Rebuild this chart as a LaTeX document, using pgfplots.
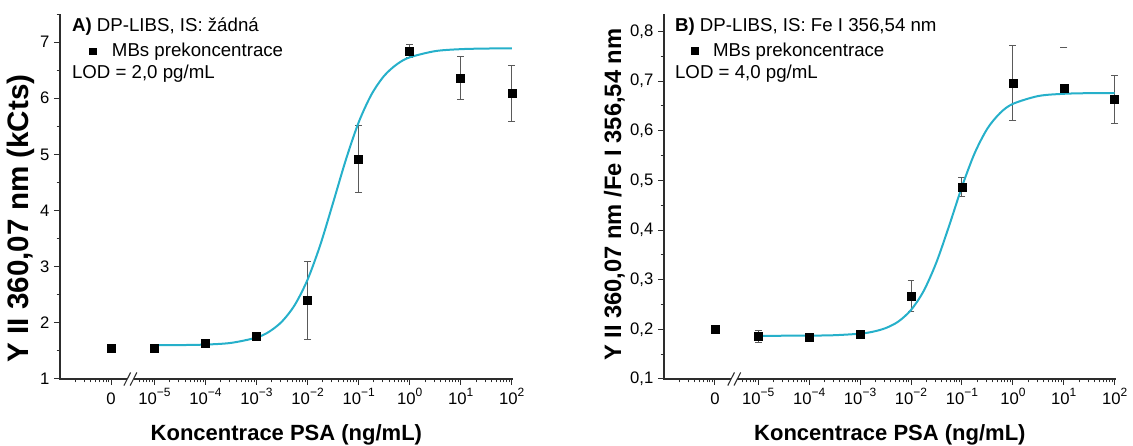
\documentclass[border=0pt]{standalone}
\usepackage{pgfplots}
\pgfplotsset{compat=1.18}
\usepackage{fontspec}
\setmainfont{Liberation Sans}
\definecolor{fitc}{RGB}{38,176,202}
\definecolor{axc}{RGB}{45,45,45}
\definecolor{errc}{RGB}{90,90,90}
\newcommand{\tp}[1]{10\raisebox{0.85ex}{\fontsize{9}{9}\selectfont #1}}
\pgfplotsset{
  panel/.style={
    scale only axis, width=339.6pt, height=273.75pt,
    anchor=south west,
    axis x line=bottom, axis y line=left,
    axis line style={axc, line width=0.9pt, -},
    x axis line style={draw=none},
    xmin=-6.85, xmax=2.02,
    xtick={-5.85,-5,-4,-3,-2,-1,0,1,2},
    xticklabels={0,\tp{\char"2212 5},\tp{\char"2212 4},\tp{\char"2212 3},\tp{\char"2212 2},\tp{\char"2212 1},\tp{0},\tp{1},\tp{2}},
    minor xtick={-6.549,-6.373,-6.248,-6.151,-6.072,-6.005,-5.947,-5.896,-5.301,-5.222,-5.155,-5.097,-5.046,-4.699,-4.523,-4.398,-4.301,-4.222,-4.155,-4.097,-4.046,-3.699,-3.523,-3.398,-3.301,-3.222,-3.155,-3.097,-3.046,-2.699,-2.523,-2.398,-2.301,-2.222,-2.155,-2.097,-2.046,-1.699,-1.523,-1.398,-1.301,-1.222,-1.155,-1.097,-1.046,-0.699,-0.523,-0.398,-0.301,-0.222,-0.155,-0.097,-0.046,0.301,0.477,0.602,0.699,0.778,0.845,0.903,0.954,1.301,1.477,1.602,1.699,1.778,1.845,1.903,1.954},
    tick align=outside,
    major tick length=4.5pt, minor tick length=2.6pt,
    every tick/.style={axc, line width=0.75pt},
    tick label style={font=\fontsize{12.5}{14}\selectfont, text=black},
    xticklabel style={anchor=base, yshift=-14.6pt},
    xlabel={Koncentrace PSA (ng/mL)},
    xlabel style={at={(axis description cs:0.5,-0.153)}, anchor=center, font=\bfseries\fontsize{16.5}{18}\selectfont},
    clip=false,
  },
  datast/.style={only marks, mark=square*, mark size=3pt, black,
    error bars/.cd, y dir=both, y explicit,
    error bar style={errc, line width=0.7pt},
    error mark options={errc, rotate=90, mark size=2.6pt, line width=0.7pt}},
  fitst/.style={fitc, line width=1.5pt, smooth, no marks},
  legst/.style={draw=none, fill=none, anchor=west, inner sep=0pt,
    nodes={inner sep=0pt}, column sep=11.5pt,
    font=\fontsize{14}{16}\selectfont},
}
\begin{document}
\begin{tikzpicture}
\path[use as bounding box] (0,0) rectangle (849.75pt,334.5pt);
% ---------- Panel A ----------
\begin{axis}[panel, at={(45pt,50.25pt)},
  ymin=1, ymax=7.5,
  ytick={1,2,3,4,5,6,7}, yticklabels={1,2,3,4,5,6,7},
  minor ytick={1.5,2.5,3.5,4.5,5.5,6.5,7.5},
  ylabel={Y II 360,07 nm (kCts)},
  ylabel style={at={(axis description cs:-0.086,0.44)}, anchor=center, font=\bfseries\fontsize{22.2}{24}\selectfont},
  legend style={legst, at={(rel axis cs:0.065,0.898)}},
  legend image code/.code={\draw[#1, mark size=2.6pt] plot coordinates {(0pt,0pt)};},
]
\addplot[datast] coordinates {
  (-5.85,1.55) +- (0,0.07)
  (-5,1.55) +- (0,0.04)
  (-4,1.63) +- (0,0.04)
  (-3,1.755) +- (0,0.04)
  (-2,2.40) +- (0,0.70)
  (-1,4.92) +- (0,0.60)
  (0,6.84) +- (0,0.12)
  (1,6.36) +- (0,0.38)
  (2,6.08) +- (0,0.50)
};
\addlegendentry{MBs prekoncentrace}
\addplot[fitst, forget plot] coordinates {
  (-5,1.601) (-4.5,1.604) (-4,1.613) (-3.5,1.643) (-3,1.738) (-2.75,1.844)
  (-2.5,2.025) (-2.25,2.320) (-2,2.770) (-1.75,3.391) (-1.5,4.140)
  (-1.25,4.904) (-1,5.569) (-0.75,6.064) (-0.5,6.399) (-0.25,6.605)
  (0,6.728) (0.5,6.839) (1,6.874) (1.5,6.885) (2,6.888)
};
\node[anchor=base west, inner sep=0pt, font=\fontsize{14}{16}\selectfont] at (rel axis cs:0.026,0.951) {\textbf{A)} DP-LIBS, IS: žádná};
\node[anchor=base west, inner sep=0pt, font=\fontsize{14}{16}\selectfont] at (rel axis cs:0.026,0.822) {LOD = 2,0 pg/mL};
\draw[axc, line width=0.9pt] ([xshift=-0.45pt]rel axis cs:0,0) -- (axis cs:-5.532,1);
\draw[axc, line width=0.9pt] (axis cs:-5.41,1) -- (rel axis cs:1,0);
\draw[axc, line width=0.8pt] (axis cs:-5.532,1) ++(-2.5pt,-4.9pt) -- ++(5pt,9.8pt);
\draw[axc, line width=0.8pt] (axis cs:-5.41,1) ++(-2.5pt,-4.9pt) -- ++(5pt,9.8pt);
\end{axis}
% ---------- Panel B ----------
\begin{axis}[panel, at={(498pt,50.25pt)}, width=338.8pt,
  ymin=0.1, ymax=0.835,
  ytick={0.1,0.2,0.3,0.4,0.5,0.6,0.7,0.8},
  yticklabels={{0,1},{0,2},{0,3},{0,4},{0,5},{0,6},{0,7},{0,8}},
  minor ytick={0.15,0.25,0.35,0.45,0.55,0.65,0.75},
  ylabel={Y II 360,07 nm /Fe I 356,54 nm},
  ylabel style={at={(axis description cs:-0.11,0.505)}, anchor=center, font=\bfseries\fontsize{17.8}{19}\selectfont},
  legend style={legst, at={(rel axis cs:0.059,0.898)}},
  legend image code/.code={\draw[#1, mark size=2.6pt] plot coordinates {(0pt,0pt)};},
]
\addplot[datast] coordinates {
  (-5.85,0.2006) +- (0,0.005)
  (-5,0.1865) +- (0,0.012)
  (-4,0.185) +- (0,0.004)
  (-3,0.191) +- (0,0.005)
  (-2,0.267) +- (0,0.031)
  (-1,0.486) +- (0,0.019)
  (0,0.696) +- (0,0.076)
  (1,0.685) +- (0,0)
  (2,0.663) +- (0,0.048)
};
\addlegendentry{MBs prekoncentrace}
\addplot[only marks, mark=-, mark size=2.6pt, errc, mark options={line width=0.7pt}, forget plot] coordinates {(1,0.767)};
\addplot[fitst, forget plot] coordinates {
  (-5,0.1870) (-4.5,0.1871) (-4,0.1873) (-3.5,0.1882) (-3,0.1913) (-2.75,0.1952)
  (-2.5,0.2024) (-2.25,0.2156) (-2,0.2390) (-1.75,0.2775) (-1.5,0.3352)
  (-1.25,0.4089) (-1,0.4870) (-0.75,0.5547) (-0.5,0.6043) (-0.25,0.6356)
  (0,0.6540) (0.5,0.6698) (1,0.6743) (1.5,0.6756) (2,0.6759)
};
\node[anchor=base west, inner sep=0pt, font=\fontsize{14}{16}\selectfont] at (rel axis cs:0.024,0.951) {\textbf{B)} DP-LIBS, IS: Fe I 356,54 nm};
\node[anchor=base west, inner sep=0pt, font=\fontsize{14}{16}\selectfont] at (rel axis cs:0.024,0.822) {LOD = 4,0 pg/mL};
\draw[axc, line width=0.9pt] ([xshift=-0.45pt]rel axis cs:0,0) -- (axis cs:-5.532,0.1);
\draw[axc, line width=0.9pt] (axis cs:-5.41,0.1) -- (rel axis cs:1,0);
\draw[axc, line width=0.8pt] (axis cs:-5.532,0.1) ++(-2.5pt,-4.9pt) -- ++(5pt,9.8pt);
\draw[axc, line width=0.8pt] (axis cs:-5.41,0.1) ++(-2.5pt,-4.9pt) -- ++(5pt,9.8pt);
\end{axis}
\end{tikzpicture}
\end{document}
